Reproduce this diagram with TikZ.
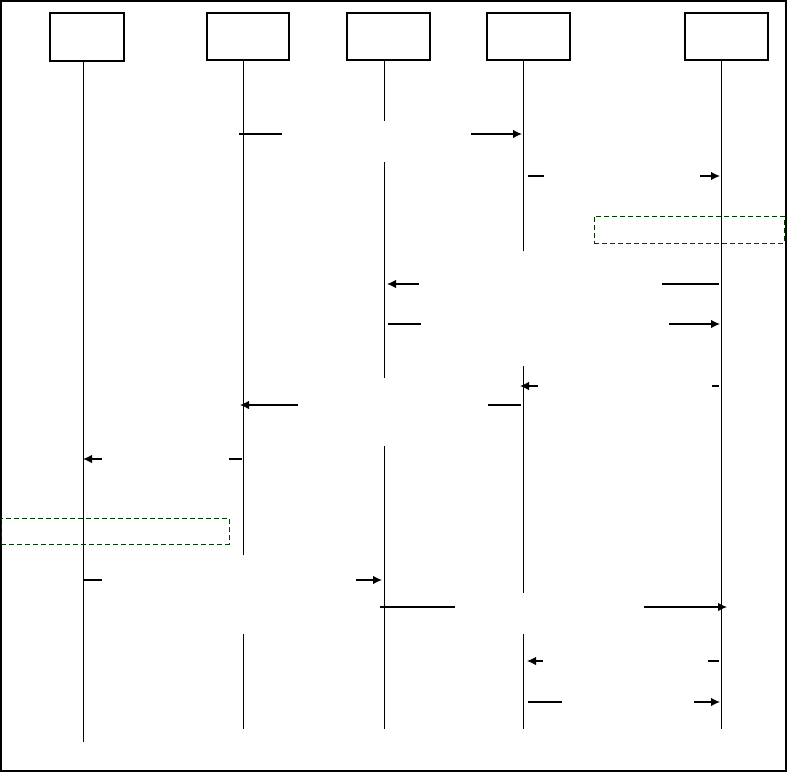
\documentclass[tikz,border=0pt]{standalone}
\usetikzlibrary{arrows.meta}
\definecolor{notegreen}{RGB}{0,60,0}
\begin{document}
\begin{tikzpicture}[x=1pt,y=-1pt,
  actor/.style={draw,line width=1.3pt,inner sep=0pt,minimum width=82pt,minimum height=47pt},
  life/.style={line width=1pt},
  msg/.style={line width=1.3pt},
  tipped/.style={msg,-{Latex[length=9pt,width=8.5pt]}},
  note/.style={draw=notegreen,dash pattern=on 5pt off 3pt,line width=1pt,inner sep=0pt}]
\useasboundingbox (0,0) rectangle (787,772);
\draw[line width=1.5pt] (0.75,0.75) rectangle (786,771);
% actors
\node[actor,minimum width=74pt,minimum height=48pt] (b1) at (87,37) {};
\node[actor] (b2) at (248,36.5) {};
\node[actor,minimum width=83pt] (b3) at (388.5,36.5) {};
\node[actor,minimum width=83pt] (b4) at (528.5,36.5) {};
\node[actor,minimum width=83pt] (b5) at (726.5,36.5) {};
% lifelines
\coordinate (l1a) at (83,61);  \coordinate (l1b) at (83,742);
\coordinate (l2a) at (243,60); \coordinate (l2b) at (243,555);
\coordinate (l2c) at (243,634); \coordinate (l2d) at (243,729);
\coordinate (l3a) at (384,60); \coordinate (l3b) at (384,121);
\coordinate (l3c) at (384,162); \coordinate (l3d) at (384,378);
\coordinate (l3e) at (384,446); \coordinate (l3f) at (384,729);
\coordinate (l4a) at (523,60); \coordinate (l4b) at (523,251);
\coordinate (l4c) at (523,366); \coordinate (l4d) at (523,593);
\coordinate (l4e) at (523,634); \coordinate (l4f) at (523,729);
\coordinate (l5a) at (721,60); \coordinate (l5b) at (721,729);
\draw[life] (l1a) -- (l1b);
\draw[life] (l2a) -- (l2b);
\draw[life] (l2c) -- (l2d);
\draw[life] (l3a) -- (l3b);
\draw[life] (l3c) -- (l3d);
\draw[life] (l3e) -- (l3f);
\draw[life] (l4a) -- (l4b);
\draw[life] (l4c) -- (l4d);
\draw[life] (l4e) -- (l4f);
\draw[life] (l5a) -- (l5b);
% notes
\node[note,minimum width=190pt,minimum height=27pt] (n1) at (689,229.5) {};
\node[note,minimum width=228pt,minimum height=26pt] (n2) at (115,531) {};
% messages: (start segment) and (end segment with tip)
\coordinate (m1a) at (239,134); \coordinate (m1b) at (282,134);
\coordinate (m1c) at (471,134); \coordinate (m1d) at (522,134);
\draw[msg] (m1a) -- (m1b); \draw[tipped] (m1c) -- (m1d);
\coordinate (m2a) at (528,176); \coordinate (m2b) at (544,176);
\coordinate (m2c) at (700,176); \coordinate (m2d) at (720,176);
\draw[msg] (m2a) -- (m2b); \draw[tipped] (m2c) -- (m2d);
\coordinate (m3a) at (719,284); \coordinate (m3b) at (662,284);
\coordinate (m3c) at (419,284); \coordinate (m3d) at (387,284);
\draw[msg] (m3a) -- (m3b); \draw[tipped] (m3c) -- (m3d);
\coordinate (m4a) at (388,324); \coordinate (m4b) at (421,324);
\coordinate (m4c) at (669,324); \coordinate (m4d) at (720,324);
\draw[msg] (m4a) -- (m4b); \draw[tipped] (m4c) -- (m4d);
\coordinate (m5a) at (719,386); \coordinate (m5b) at (712,386);
\coordinate (m5c) at (538,386); \coordinate (m5d) at (520,386);
\draw[msg] (m5a) -- (m5b); \draw[tipped] (m5c) -- (m5d);
\coordinate (m6a) at (521,405); \coordinate (m6b) at (488,405);
\coordinate (m6c) at (298,405); \coordinate (m6d) at (240,405);
\draw[msg] (m6a) -- (m6b); \draw[tipped] (m6c) -- (m6d);
\coordinate (m7a) at (242,459); \coordinate (m7b) at (229,459);
\coordinate (m7c) at (102,459); \coordinate (m7d) at (83,459);
\draw[msg] (m7a) -- (m7b); \draw[tipped] (m7c) -- (m7d);
\coordinate (m8a) at (83,580); \coordinate (m8b) at (102,580);
\coordinate (m8c) at (356,580); \coordinate (m8d) at (382,580);
\draw[msg] (m8a) -- (m8b); \draw[tipped] (m8c) -- (m8d);
\coordinate (m9a) at (380,607); \coordinate (m9b) at (455,607);
\coordinate (m9c) at (644,607); \coordinate (m9d) at (727,607);
\draw[msg] (m9a) -- (m9b); \draw[tipped] (m9c) -- (m9d);
\coordinate (m10a) at (719,661); \coordinate (m10b) at (708,661);
\coordinate (m10c) at (543,661); \coordinate (m10d) at (527,661);
\draw[msg] (m10a) -- (m10b); \draw[tipped] (m10c) -- (m10d);
\coordinate (m11a) at (528,702); \coordinate (m11b) at (562,702);
\coordinate (m11c) at (694,702); \coordinate (m11d) at (720,702);
\draw[msg] (m11a) -- (m11b); \draw[tipped] (m11c) -- (m11d);
\end{tikzpicture}
\end{document}
